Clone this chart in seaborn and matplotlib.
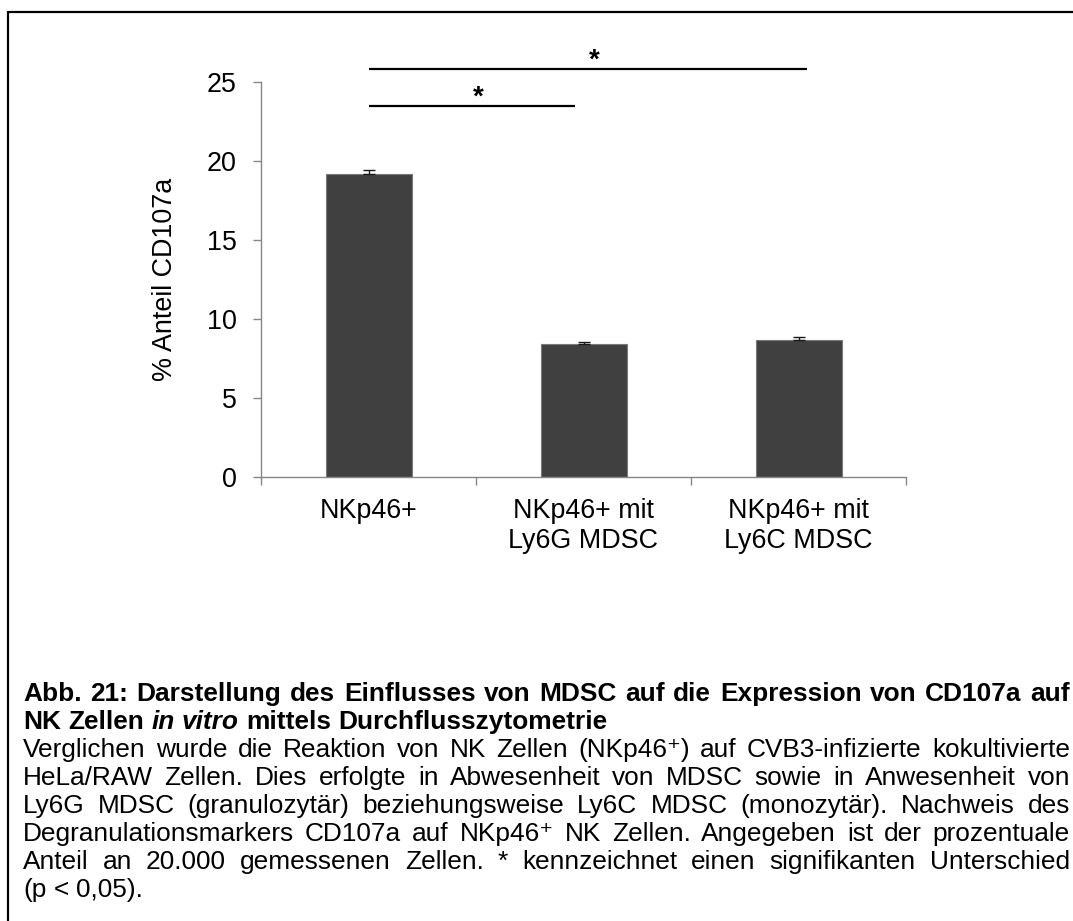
import numpy as np
import pandas as pd
import matplotlib
matplotlib.use("Agg")
import matplotlib.pyplot as plt
import seaborn as sns
from matplotlib.lines import Line2D

# ---------------- data ----------------
categories = ["NKp46+", "NKp46+ mit\nLy6G MDSC", "NKp46+ mit\nLy6C MDSC"]
values = [19.2, 8.4, 8.7]
errors = [0.2, 0.12, 0.13]
yticks = [0, 5, 10, 15, 20, 25]
ylabel = "% Anteil CD107a"
# significance brackets: start category, end category, height, label
sig_start = [0.0, 0.0]
sig_end = [0.96, 2.04]
sig_height = [23.5, 25.8]
sig_label = ["*", "*"]

caption_lines = [
    ([("Abb. 21: Darstellung des Einflusses von MDSC auf die Expression von CD107a auf", "bold", "normal")], True),
    ([("NK Zellen", "bold", "normal"), ("in vitro", "bold", "italic"), ("mittels Durchflusszytometrie", "bold", "normal")], False),
    ([("Verglichen wurde die Reaktion von NK Zellen (NKp46\u207a) auf CVB3-infizierte kokultivierte", "normal", "normal")], True),
    ([("HeLa/RAW Zellen. Dies erfolgte in Abwesenheit von MDSC sowie in Anwesenheit von", "normal", "normal")], True),
    ([("Ly6G MDSC (granulozytär) beziehungsweise Ly6C MDSC (monozytär). Nachweis des", "normal", "normal")], True),
    ([("Degranulationsmarkers CD107a auf NKp46\u207a NK Zellen. Angegeben ist der prozentuale", "normal", "normal")], True),
    ([("Anteil an 20.000 gemessenen Zellen. * kennzeichnet einen signifikanten Unterschied", "normal", "normal")], True),
    ([("(p < 0,05).", "normal", "normal")], False),
]

# ---------------- style ----------------
sns.set_style("white")
plt.rcParams["font.family"] = ["Liberation Sans", "DejaVu Sans"]
plt.rcParams["text.color"] = "black"

W, H = 1073, 921
fig = plt.figure(figsize=(W / 100, H / 100), dpi=100)
fig.patch.set_facecolor("white")

ax = fig.add_axes([261 / W, 1 - 477 / H, 645 / W, 395 / H])
df = pd.DataFrame({"cat": categories, "val": values})
sns.barplot(data=df, x="cat", y="val", color="#404040", saturation=1, width=0.4,
            errorbar=None, edgecolor="#7a7a7a", linewidth=0.8, ax=ax)
ax.errorbar(x=np.arange(len(values)), y=values,
            yerr=[np.zeros(len(values)), errors], fmt="none",
            ecolor="#1a1a1a", elinewidth=1.0, capsize=4, capthick=1.0, zorder=3)

ax.set_xlim(-0.5, len(categories) - 0.5)
ax.set_ylim(0, 25)
for s in ["top", "right"]:
    ax.spines[s].set_visible(False)
for s in ["left", "bottom"]:
    ax.spines[s].set_color("#868686")
    ax.spines[s].set_linewidth(1.0)

ax.set_yticks(yticks)
ax.set_yticklabels([str(t) for t in yticks])
ax.tick_params(axis="y", length=5.8, width=1.0, color="#868686", pad=11.5,
               labelsize=19.4, labelcolor="black", direction="out", left=True)
ax.set_xticks(np.arange(-0.5, len(categories)), minor=True)
ax.tick_params(axis="x", which="minor", length=5.8, width=1.0, color="#868686",
               direction="out", bottom=True)
ax.tick_params(axis="x", which="major", length=0, pad=15, labelsize=19.4,
               labelcolor="black")
for lab in ax.get_xticklabels():
    lab.set_linespacing(1.2)
ax.set_xlabel("")
ax.set_ylabel(ylabel, fontsize=19.4, color="black")
ax.yaxis.set_label_coords(-0.1287, 0.5)

for x0, x1, h, lab in zip(sig_start, sig_end, sig_height, sig_label):
    ax.plot([x0, x1], [h, h], color="black", lw=1.6, clip_on=False, solid_capstyle="butt")
    ax.text((x0 + x1) / 2 + 0.03, h + 0.08, lab, ha="center", va="baseline",
            fontsize=20, fontweight="bold", color="black", clip_on=False)

# ---------------- frame ----------------
fig.add_artist(Line2D([8 / W, 1.01], [1 - 12 / H, 1 - 12 / H], color="black", lw=1.6,
                      transform=fig.transFigure))
fig.add_artist(Line2D([8 / W, 8 / W], [1 - 12 / H, -0.01], color="black", lw=1.6,
                      transform=fig.transFigure))

# ---------------- caption (justified) ----------------
fig.canvas.draw()
renderer = fig.canvas.get_renderer()
cap_size = 18.9


def measure(s, weight, style):
    t = fig.text(0, 0, s, fontsize=cap_size, fontweight=weight, fontstyle=style)
    w = t.get_window_extent(renderer).width
    t.remove()
    return w


left_px, right_px = 23, 1070
base0 = 701
line_gap = 28
for i, (segs, justify) in enumerate(caption_lines):
    words = []
    for text, weight, style in segs:
        for wd in text.split(" "):
            words.append((wd, weight, style, measure(wd, weight, style)))
    total = sum(w[3] for w in words)
    if justify and len(words) > 1:
        gap = (right_px - left_px - total) / (len(words) - 1)
    else:
        gap = measure("a a", words[0][1], "normal") - measure("aa", words[0][1], "normal")
    x = left_px
    y = base0 + i * line_gap
    for wd, weight, style, wpx in words:
        fig.text(x / W, 1 - y / H, wd, fontsize=cap_size, fontweight=weight,
                 fontstyle=style, ha="left", va="baseline", color="black")
        x += wpx + gap

fig.savefig("out.png", dpi=100)
